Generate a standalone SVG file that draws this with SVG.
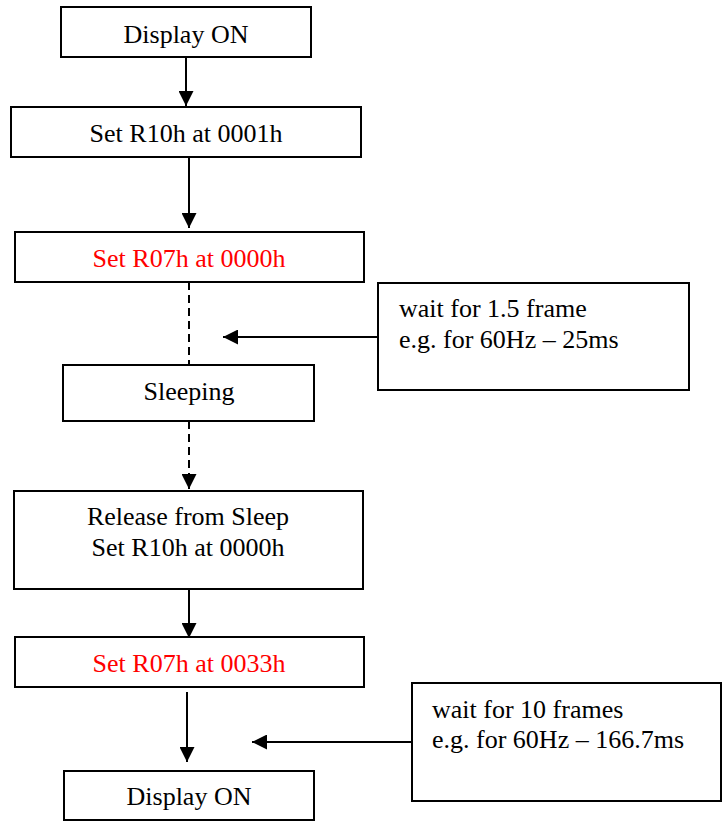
<svg xmlns="http://www.w3.org/2000/svg" width="723" height="821" viewBox="0 0 723 821">
<defs>
<style>
.box{fill:#fff;stroke:#000;stroke-width:2}
.t{font-family:"Liberation Serif","Times New Roman",serif;font-size:26px;fill:#000}
.c{text-anchor:middle}
.red{fill:#ff0000}
.ln{stroke:#000;stroke-width:2;fill:none}
.dash{stroke-dasharray:8,5}
</style>
<marker id="ah" markerWidth="15" markerHeight="15" viewBox="0 0 15 15" refX="15" refY="7.5" orient="auto" markerUnits="userSpaceOnUse">
<path d="M0,0 L15,7.5 L0,15 Z" fill="#000"/>
</marker>
</defs>
<g id="connectors">
<line class="ln" x1="186" y1="57" x2="186" y2="106" marker-end="url(#ah)"/>
<line class="ln" x1="189" y1="157" x2="189" y2="228" marker-end="url(#ah)"/>
<line class="ln dash" x1="189" y1="282" x2="189" y2="365"/>
<line class="ln dash" x1="189" y1="421" x2="189" y2="489" marker-end="url(#ah)"/>
<line class="ln" x1="189" y1="589" x2="189" y2="638" marker-end="url(#ah)"/>
<line class="ln" x1="187" y1="692" x2="187" y2="762" marker-end="url(#ah)"/>
<line class="ln" x1="378" y1="337" x2="223" y2="337" marker-end="url(#ah)"/>
<line class="ln" x1="412" y1="742" x2="252" y2="742" marker-end="url(#ah)"/>
</g>
<g id="n1"><rect class="box" x="61" y="7" width="250" height="50"/><text class="t c" x="186" y="43">Display ON</text></g>
<g id="n2"><rect class="box" x="11" y="107" width="350" height="50"/><text class="t c" x="186" y="142">Set R10h at 0001h</text></g>
<g id="n3"><rect class="box" x="15" y="232" width="349" height="50"/><text class="t c red" x="189" y="267">Set R07h at 0000h</text></g>
<g id="n4"><rect class="box" x="63" y="365" width="251" height="56"/><text class="t c" x="189" y="400">Sleeping</text></g>
<g id="n5"><rect class="box" x="14" y="491" width="349" height="98"/><text class="t c" x="188" y="525">Release from Sleep</text><text class="t c" x="188" y="556">Set R10h at 0000h</text></g>
<g id="n6"><rect class="box" x="15" y="637" width="349" height="50"/><text class="t c red" x="189" y="672">Set R07h at 0033h</text></g>
<g id="n7"><rect class="box" x="64" y="771" width="250" height="49"/><text class="t c" x="189" y="805">Display ON</text></g>
<g id="w1"><rect class="box" x="378" y="283" width="311" height="107"/><text class="t" x="399" y="317">wait for 1.5 frame</text><text class="t" x="399" y="348">e.g. for 60Hz – 25ms</text></g>
<g id="w2"><rect class="box" x="412" y="683" width="309" height="118"/><text class="t" x="432" y="718">wait for 10 frames</text><text class="t" x="432" y="748">e.g. for 60Hz – 166.7ms</text></g>
</svg>
